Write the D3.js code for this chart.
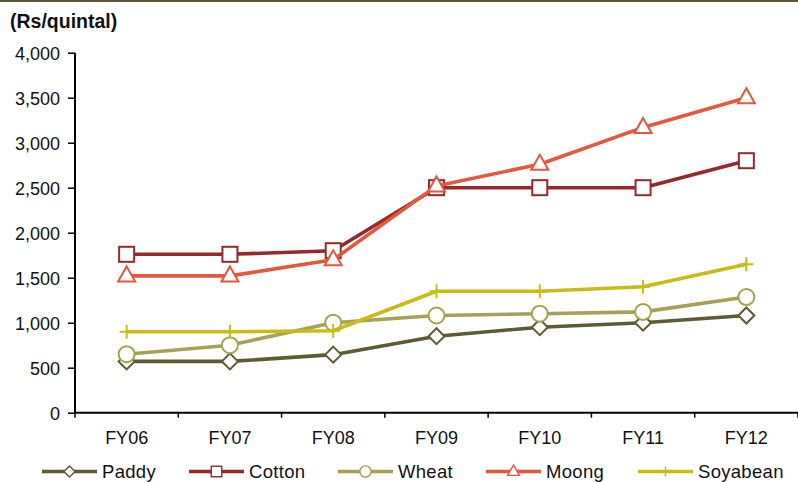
<!DOCTYPE html>
<html>
<head>
<meta charset="utf-8">
<script src="https://cdn.jsdelivr.net/npm/d3@7"></script>
<style>
  html, body { margin: 0; padding: 0; background: #fff; }
  svg { display: block; font-family: "Liberation Sans", Arial, sans-serif; }
</style>
</head>
<body>
<svg id="chart" width="798" height="482"></svg>
<script>
// Minimum support prices by crop, Rs per quintal
const years = ["FY06", "FY07", "FY08", "FY09", "FY10", "FY11", "FY12"];
const paddy    = [570, 570, 645, 850, 950, 1000, 1080];
const cotton   = [1760, 1760, 1800, 2500, 2500, 2500, 2800];
const wheat    = [650, 750, 1000, 1080, 1100, 1120, 1285];
const moong    = [1520, 1520, 1700, 2520, 2760, 3170, 3500];
const soyabean = [900, 900, 910, 1350, 1350, 1400, 1650];
const yTicks = [0, 500, 1000, 1500, 2000, 2500, 3000, 3500, 4000];

const seriesList = [
  { name: "Paddy",    values: paddy,    color: "#5e5a34", marker: "diamond" },
  { name: "Cotton",   values: cotton,   color: "#96292b", marker: "square" },
  { name: "Wheat",    values: wheat,    color: "#a6a155", marker: "circle" },
  { name: "Moong",    values: moong,    color: "#e4583f", marker: "triangle" },
  { name: "Soyabean", values: soyabean, color: "#cabc16", marker: "plus" }
];

const svg = d3.select("#chart");
const plotLeft = 75, plotRight = 798, plotTop = 52.7, plotBottom = 412.7;
const fontSize = 18;

const x = d3.scaleBand().domain(years).range([plotLeft, plotRight]);
const y = d3.scaleLinear().domain([0, 4000]).range([plotBottom, plotTop]);

// Top rule
svg.append("rect").attr("x", 0).attr("y", 0).attr("width", 798).attr("height", 2).attr("fill", "#5f5630");

// Unit label
svg.append("text").attr("x", 10).attr("y", 28)
  .attr("font-size", 19.5).attr("font-weight", "bold").attr("fill", "#111")
  .text("(Rs/quintal)");

// Y axis
const yAxis = svg.append("g").attr("transform", `translate(${plotLeft},0)`)
  .call(d3.axisLeft(y).tickValues(yTicks).tickSize(7).tickPadding(8)
    .tickFormat(d3.format(",")));
yAxis.select(".domain").attr("stroke", "#000").attr("stroke-width", 2).attr("d", `M0,${plotTop}V${plotBottom}`);
yAxis.selectAll(".tick line").attr("stroke", "#000").attr("stroke-width", 1.5);
yAxis.selectAll(".tick text").attr("font-size", fontSize).attr("fill", "#111").attr("dy", "0.38em")
  .attr("font-family", "Liberation Sans, Arial, sans-serif");

// X axis with boundary ticks between categories
const xAxisG = svg.append("g").attr("transform", `translate(0,${plotBottom})`);
xAxisG.append("line").attr("x1", plotLeft).attr("x2", plotRight).attr("y1", 0).attr("y2", 0)
  .attr("stroke", "#000").attr("stroke-width", 2);
const boundaries = years.map(d => x(d)).concat([plotRight]);
xAxisG.selectAll("line.bt").data(boundaries).join("line").attr("class", "bt")
  .attr("x1", d => d).attr("x2", d => d).attr("y1", 0).attr("y2", 5)
  .attr("stroke", "#000").attr("stroke-width", 1.5);
xAxisG.selectAll("text").data(years).join("text")
  .attr("x", d => x(d) + x.bandwidth() / 2).attr("y", 31.5)
  .attr("text-anchor", "middle").attr("font-size", fontSize).attr("fill", "#111")
  .text(d => d);

// Marker drawing
function drawMarker(g, type, color) {
  if (type === "diamond") {
    g.append("path").attr("d", "M0,-8L8,0L0,8L-8,0Z")
      .attr("fill", "#fff").attr("stroke", color).attr("stroke-width", 2);
  } else if (type === "square") {
    g.append("rect").attr("x", -7.5).attr("y", -7.5).attr("width", 15).attr("height", 15)
      .attr("fill", "#fff").attr("stroke", color).attr("stroke-width", 2);
  } else if (type === "circle") {
    g.append("circle").attr("r", 8)
      .attr("fill", "#fff").attr("stroke", color).attr("stroke-width", 2);
  } else if (type === "triangle") {
    g.append("path").attr("d", "M0,-9.5L8.5,5.5L-8.5,5.5Z")
      .attr("fill", "#fff").attr("stroke", color).attr("stroke-width", 2);
  } else if (type === "plus") {
    g.append("path").attr("d", "M0,-7V7M-7,0H7")
      .attr("fill", "none").attr("stroke", color).attr("stroke-width", 2);
  }
}

const line = d3.line()
  .x((d, i) => x(years[i]) + x.bandwidth() / 2)
  .y(d => y(d));

seriesList.forEach(s => {
  const g = svg.append("g");
  g.append("path").datum(s.values).attr("d", line)
    .attr("fill", "none").attr("stroke", s.color).attr("stroke-width", 3.6)
    .attr("stroke-linejoin", "round");
  s.values.forEach((v, i) => {
    const mg = g.append("g").attr("transform",
      `translate(${x(years[i]) + x.bandwidth() / 2},${y(v)})`);
    drawMarker(mg, s.marker, s.color);
  });
});

// Legend
const legendX = [42, 189, 338, 486, 638];
const legendY = 471.5;
seriesList.forEach((s, i) => {
  const g = svg.append("g").attr("transform", `translate(${legendX[i]},${legendY})`);
  g.append("line").attr("x1", 0).attr("x2", 55).attr("y1", 0).attr("y2", 0)
    .attr("stroke", s.color).attr("stroke-width", 3.6);
  const mg = g.append("g").attr("transform", "translate(27.5,0)");
  if (s.marker === "plus") {
    mg.append("path").attr("d", "M0,-5V5").attr("stroke", s.color).attr("stroke-width", 1.5);
  } else {
    const sub = mg.append("g").attr("transform", "scale(0.7)");
    drawMarker(sub, s.marker, s.color);
  }
  g.append("text").attr("x", 60).attr("y", 6.5)
    .attr("font-size", 18.5).attr("letter-spacing", 0.3).attr("fill", "#111").text(s.name);
});
</script>
</body>
</html>
